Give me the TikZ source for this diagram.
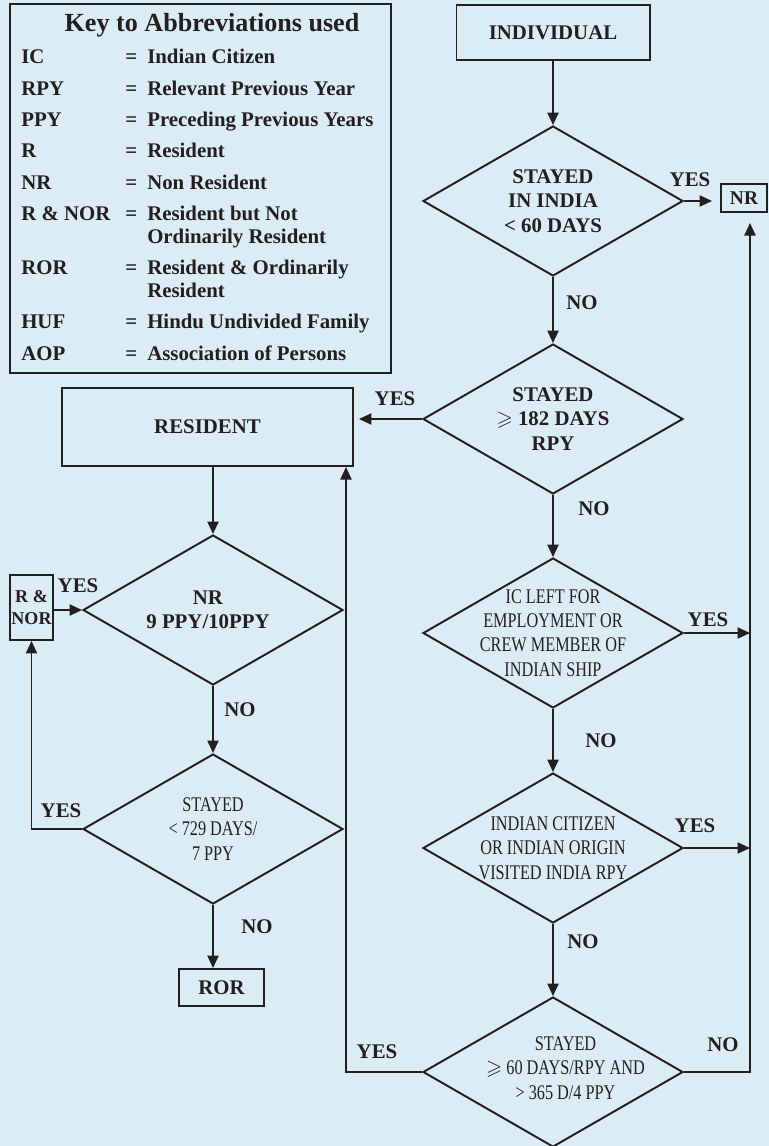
\documentclass[tikz,border=0pt]{standalone}
\usepackage{amssymb}
\usepackage{fontspec}
\setmainfont{Liberation Serif}
\newfontfamily\narrowfont{Liberation Serif}[FakeStretch=0.78]
\usetikzlibrary{shapes.geometric,arrows.meta}

\definecolor{paper}{RGB}{219,236,244}
\definecolor{ink}{RGB}{35,31,32}
\newcommand{\twoline}[2]{\begin{tabular}[t]{@{}l@{}}#1\\#2\end{tabular}}

\tikzset{
	flow/.style={draw=ink, line width=1.4pt},
	arr/.style={flow, -{Triangle[length=9pt,width=8pt]}},
	box/.style={draw=ink, line width=1.4pt, inner sep=0pt, align=center, text=ink, font=\fontsize{15}{17.5}\selectfont\bfseries},
	decision/.style={diamond, draw=ink, line width=1.4pt, inner sep=0pt, minimum width=187.2pt, minimum height=108pt},
	dtext/.style={align=center, text=ink, inner sep=0pt, font=\fontsize{15}{17.5}\selectfont\bfseries},
	ntext/.style={align=center, text=ink, inner sep=0pt, font=\narrowfont\fontsize{15}{17.5}\selectfont},
	lbl/.style={text=ink, inner sep=0pt, font=\fontsize{15}{17.5}\selectfont\bfseries},
	keytext/.style={anchor=base west, inner sep=0pt, text=ink, font=\fontsize{15}{16.6}\selectfont\bfseries}
}

\begin{document}
\begin{tikzpicture}[x=0.72pt, y=-0.72pt]
			\fill[paper] (0,0) rectangle (769,1146);
			\useasboundingbox (0,0) rectangle (769,1146);
			\coordinate (rtrunk) at (750,0);
			\coordinate (ltrunk) at (346,0);

			\draw[ink, line width=1.9pt] (10,4) rectangle (391,373);
			\node[keytext, anchor=base, font=\fontsize{18.8}{20}\selectfont\bfseries](keytitle) at (212,31){Key to Abbreviations used};
			\foreach \ab/\df/\yy [count=\i] in {IC/Indian Citizen/63, RPY/Relevant Previous Year/95, PPY/Preceding Previous Years/126, R/Resident/157, NR/Non Resident/189, R \& NOR/{\twoline{Resident but Not}{Ordinarily Resident}}/220, ROR/{\twoline{Resident \& Ordinarily}{Resident}}/274, HUF/Hindu Undivided Family/328, AOP/Association of Persons/360}{
				\node[keytext](ab\i) at (21,\yy){\ab};
				\node[keytext](eq\i) at (125,\yy){=};
				\node[keytext](df\i) at (147,\yy){\df};
			}

			\node[box, minimum width=139pt, minimum height=39.6pt](indiv) at (553,32.5){INDIVIDUAL};
			\node[decision, label={[dtext]center:{STAYED\\IN INDIA\\< 60 DAYS}}](stay60) at (553,201){};
			\node[box, font=\fontsize{14}{16}\selectfont\bfseries, minimum width=33pt, minimum height=20.2pt](nr) at (744,198){NR};
			\node[decision, label={[dtext]center:{STAYED\\$\geqslant$ 182 DAYS\\RPY}}](stay182) at (553,419){};
			\node[box, minimum width=209.5pt, minimum height=56.2pt](resident) at (207.5,427){RESIDENT};
			\node[decision, label={[dtext, xshift=-3.6pt]center:{NR\\9 PPY/10PPY}}](nrppy) at (213,610){};
			\node[box, font=\fontsize{13}{16}\selectfont\bfseries, minimum width=31pt, minimum height=46.8pt](rnor) at (31.5,607.5){R \&\\NOR};
			\node[decision, label={[ntext]center:{STAYED\\< 729 DAYS/\\7 PPY}}](stay729) at (213,829){};
			\node[box, minimum width=61.2pt, minimum height=26.6pt](ror) at (221.5,987.5){ROR};
			\node[decision, label={[ntext]center:{IC LEFT FOR\\EMPLOYMENT OR\\CREW MEMBER OF\\INDIAN SHIP}}](icleft) at (553,633){};
			\node[decision, label={[ntext]center:{INDIAN CITIZEN\\OR INDIAN ORIGIN\\VISITED INDIA RPY}}](origin) at (553,848){};
			\node[decision, label={[ntext, xshift=9pt, yshift=2.9pt]center:{STAYED\\$\geqslant$ 60 DAYS/RPY AND\\> 365 D/4 PPY}}](stay365) at (553,1072){};

			\draw[arr] (indiv) -- (stay60);
			\draw[arr, shorten >=5.8pt] (stay60.east) -- (stay60.east -| nr.west);
			\draw[arr] (stay60) -- (stay182);
			\draw[arr, shorten >=3.6pt] (stay182.west) -- (stay182.west -| resident.east);
			\draw[arr] (stay182) -- (icleft);
			\draw[arr] (icleft.east) -- (icleft.east -| rtrunk);
			\draw[arr] (icleft) -- (origin);
			\draw[arr] (origin.east) -- (origin.east -| rtrunk);
			\draw[arr] (origin) -- (stay365);
			\draw[arr, shorten >=7.2pt] (stay365.east) -- (stay365.east -| rtrunk) -- (rtrunk |- nr.south);
			\draw[arr] (stay365.west) -- (stay365.west -| ltrunk) -- (ltrunk |- resident.south);
			\draw[arr] (resident.south -| nrppy.north) -- (nrppy.north);
			\draw[arr] (nrppy.west -| rnor.east) -- (nrppy.west);
			\draw[arr] (nrppy) -- (stay729);
			\draw[arr] (stay729.west) -| (rnor.south);
			\draw[arr] (stay729.south) -- (stay729.south |- ror.north);

			\node[lbl](yes1) at (690,180){YES};
			\node[lbl](no1) at (582,303){NO};
			\node[lbl](yes2) at (395,399){YES};
			\node[lbl](no2) at (594,509){NO};
			\node[lbl](yes3) at (708,620){YES};
			\node[lbl](no3) at (601,741){NO};
			\node[lbl](yes4) at (695,826){YES};
			\node[lbl](no4) at (583,942){NO};
			\node[lbl](no5) at (723,1045){NO};
			\node[lbl](yes5) at (377,1052){YES};
			\node[lbl](yes6) at (78,586){YES};
			\node[lbl](no6) at (240,710){NO};
			\node[lbl](yes7) at (61,811){YES};
			\node[lbl](no7) at (257,927){NO};
\end{tikzpicture}
\end{document}
